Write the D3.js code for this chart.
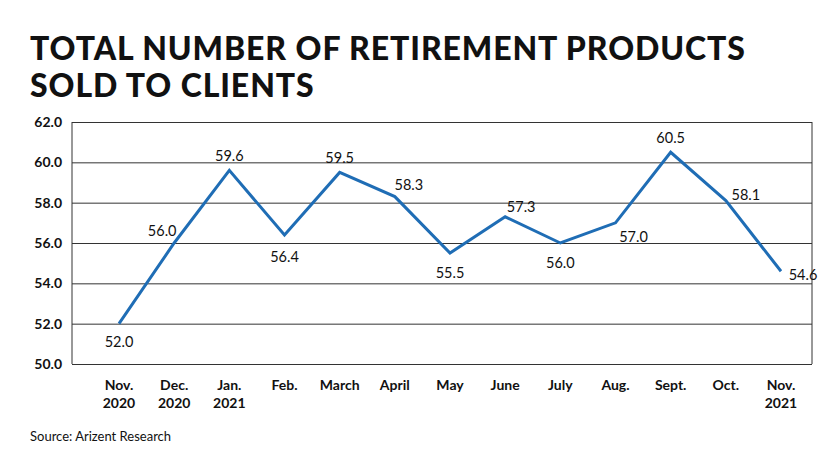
<!DOCTYPE html>
<html><head><meta charset="utf-8">
<script src="https://cdn.jsdelivr.net/npm/d3@7"></script>
<style>body{margin:0;background:#fff}svg{display:block}</style>
</head><body><svg id="c" width="840" height="471"></svg>
<script>
const categories = [["Nov.","2020"],["Dec.","2020"],["Jan.","2021"],["Feb."],["March"],["April"],["May"],["June"],["July"],["Aug."],["Sept."],["Oct."],["Nov.","2021"]];
const values = [52.0,56.0,59.6,56.4,59.5,58.3,55.5,57.3,56.0,57.0,60.5,58.1,54.6];
const yTicks = [50,52,54,56,58,60,62];
// label placement: dx, dy
const labelPos = [[0,18],[-12,-12],[0,-14],[0,22],[0,-14],[14,-12],[0,20],[16,-10],[0,20],[18,14],[0,-14],[20,-6],[22,4]];

const svg = d3.select("#c");
const font = "Lato, 'Open Sans', sans-serif";
const L=72,R=812,T=122,B=364;
const x = d3.scalePoint().domain(d3.range(categories.length)).range([119,781]);
const y = d3.scaleLinear().domain([50,62]).range([B,T]);

[["TOTAL NUMBER OF RETIREMENT PRODUCTS",60],["SOLD TO CLIENTS",97]].forEach(([s,yy])=>
  svg.append("text").attr("x",30).attr("y",yy).attr("font-family",font).attr("font-weight",900).attr("font-size",32).attr("letter-spacing",0.9).attr("fill","#111").text(s));

const yAxis = d3.axisLeft(y).tickValues(yTicks).tickFormat(d3.format(".1f")).tickSize(-(R-L)).tickPadding(10);
const g = svg.append("g").attr("transform",`translate(${L},0)`).call(yAxis);
g.select(".domain").remove();
g.selectAll("line").attr("stroke","#333").attr("stroke-width",1);
g.selectAll("text").attr("font-family",font).attr("font-size",14).attr("font-weight",700).attr("fill","#111");
svg.append("line").attr("x1",L).attr("x2",L).attr("y1",T).attr("y2",B).attr("stroke","#333");
svg.append("line").attr("x1",R).attr("x2",R).attr("y1",T).attr("y2",B).attr("stroke","#333");

categories.forEach((c,i)=>{
  const t = svg.append("text").attr("x",x(i)).attr("y",390).attr("text-anchor","middle").attr("font-family",font).attr("font-size",14).attr("font-weight",700).attr("fill","#111");
  c.forEach((s,j)=>t.append("tspan").attr("x",x(i)).attr("dy",j?18:0).text(s));
});

svg.append("path").datum(values).attr("fill","none").attr("stroke","#1f6db5").attr("stroke-width",3).attr("stroke-linejoin","miter")
  .attr("d",d3.line().x((d,i)=>x(i)).y(d=>y(d)));

svg.selectAll(".vl").data(values).enter().append("text")
  .attr("x",(d,i)=>x(i)+labelPos[i][0]).attr("y",(d,i)=>y(d)+labelPos[i][1]+5)
  .attr("text-anchor","middle").attr("font-family",font).attr("font-size",14.5).attr("fill","#111")
  .text(d=>d.toFixed(1));

svg.append("text").attr("x",30).attr("y",441).attr("font-family",font).attr("font-size",13).attr("fill","#111").text("Source: Arizent Research");
</script></body></html>
